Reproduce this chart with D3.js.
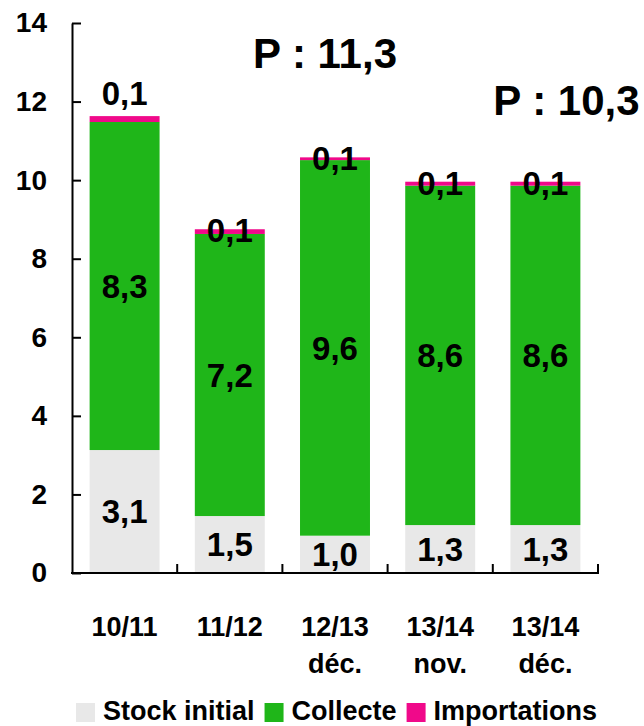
<!DOCTYPE html>
<html>
<head>
<meta charset="utf-8">
<script src="https://cdn.jsdelivr.net/npm/d3@7"></script>
<style>
  html, body { margin: 0; padding: 0; background: #fff; }
  svg { display: block; font-family: "Liberation Sans", Arial, sans-serif; font-weight: bold; }
</style>
</head>
<body>
<div id="chart"></div>
<script>
const categories = ['10/11', '11/12', '12/13 déc.', '13/14 nov.', '13/14 déc.'];
const stockInitial = [3.13, 1.45, 0.95, 1.22, 1.22];
const collecte = [8.35, 7.18, 9.56, 8.64, 8.64];
const importations = [0.15, 0.12, 0.07, 0.10, 0.10];
const stockLabels = ['3,1', '1,5', '1,0', '1,3', '1,3'];
const collecteLabels = ['8,3', '7,2', '9,6', '8,6', '8,6'];
const importLabels = ['0,1', '0,1', '0,1', '0,1', '0,1'];
const yTicks = [0, 2, 4, 6, 8, 10, 12, 14];
const seriesNames = ['Stock initial', 'Collecte', 'Importations'];
const colors = ['#e8e8e8', '#1fb619', '#f0098a'];

const width = 644;
const height = 726;
const plot = { left: 72, right: 598, top: 23, bottom: 573 };

const svg = d3.select('#chart').append('svg')
  .attr('width', width)
  .attr('height', height);

const x = d3.scaleBand()
  .domain(categories)
  .range([plot.left, plot.right])
  .paddingInner(0.335)
  .paddingOuter(0.1675);

const y = d3.scaleLinear().domain([0, 14]).range([plot.bottom, plot.top]);

const rows = categories.map((c, i) => ({
  cat: c, 'Stock initial': stockInitial[i], Collecte: collecte[i], Importations: importations[i],
}));
const stacked = d3.stack().keys(seriesNames)(rows);

// bars
stacked.forEach((layer, li) => {
  svg.append('g').selectAll('rect')
    .data(layer)
    .join('rect')
    .attr('x', (d) => x(d.data.cat))
    .attr('y', (d) => y(d[1]))
    .attr('width', x.bandwidth())
    .attr('height', (d) => y(d[0]) - y(d[1]))
    .attr('fill', colors[li]);
});

// y axis, ticks pointing inward
const yAxis = svg.append('g')
  .attr('transform', `translate(${plot.left},0)`)
  .call(d3.axisLeft(y).tickValues(yTicks).tickSizeInner(-9).tickSizeOuter(0).tickPadding(25));
yAxis.select('.domain').attr('stroke', '#000').attr('stroke-width', 2);
yAxis.selectAll('.tick line').attr('stroke', '#000').attr('stroke-width', 2);
yAxis.selectAll('.tick text')
  .attr('font-size', 28)
  .attr('font-family', '"Liberation Sans", Arial, sans-serif')
  .attr('font-weight', 'bold')
  .attr('fill', '#000');

// x axis line with ticks between categories
const gap = (x.step() - x.bandwidth()) / 2;
const bounds = categories.map((c) => x(c) - gap).concat([plot.right]);
svg.append('line')
  .attr('x1', plot.left - 1).attr('x2', plot.right + 1)
  .attr('y1', y(0)).attr('y2', y(0))
  .attr('stroke', '#000').attr('stroke-width', 2);
svg.append('g').selectAll('line')
  .data(bounds.slice(1))
  .join('line')
  .attr('x1', (d) => d).attr('x2', (d) => d)
  .attr('y1', y(0)).attr('y2', y(0) - 9)
  .attr('stroke', '#000').attr('stroke-width', 2);

// category labels
const catG = svg.append('g').attr('font-size', 27).attr('text-anchor', 'middle');
categories.forEach((c) => {
  const t = catG.append('text').attr('x', x(c) + x.bandwidth() / 2).attr('y', 636);
  c.split(' ').forEach((line, li) => {
    t.append('tspan').attr('x', x(c) + x.bandwidth() / 2).attr('dy', li === 0 ? 0 : 37).text(line);
  });
});

// value labels
const labG = svg.append('g').attr('font-size', 33).attr('text-anchor', 'middle').attr('fill', '#000');
categories.forEach((c, i) => {
  const cx = x(c) + x.bandwidth() / 2;
  labG.append('text').attr('x', cx).attr('y', y(stockInitial[i] / 2)).attr('dy', '0.36em').text(stockLabels[i]);
  labG.append('text').attr('x', cx).attr('y', y(stockInitial[i] + collecte[i] / 2)).attr('dy', '0.36em').text(collecteLabels[i]);
  const top = y(stockInitial[i] + collecte[i] + importations[i]);
  const lift = i === 0 ? 23 : -1;
  labG.append('text').attr('x', cx).attr('y', top - lift).attr('dy', '0.36em').text(importLabels[i]);
});

// forecast annotations
svg.append('text')
  .attr('x', x(categories[2]) + x.bandwidth() / 2 - 10)
  .attr('y', 68)
  .attr('text-anchor', 'middle')
  .attr('font-size', 42)
  .text('P : 11,3');
svg.append('text')
  .attr('x', x(categories[4]) + x.bandwidth() / 2 + 21)
  .attr('y', 115)
  .attr('text-anchor', 'middle')
  .attr('font-size', 42)
  .text('P : 10,3');

// legend
const leg = svg.append('g').attr('font-size', 27);
let lx = 76;
seriesNames.forEach((name, i) => {
  leg.append('rect').attr('x', lx).attr('y', 703).attr('width', 19).attr('height', 19).attr('fill', colors[i]);
  const t = leg.append('text').attr('x', lx + 27).attr('y', 720).text(name);
  lx += 27 + t.node().getComputedTextLength() + 10;
});
</script>
</body>
</html>
